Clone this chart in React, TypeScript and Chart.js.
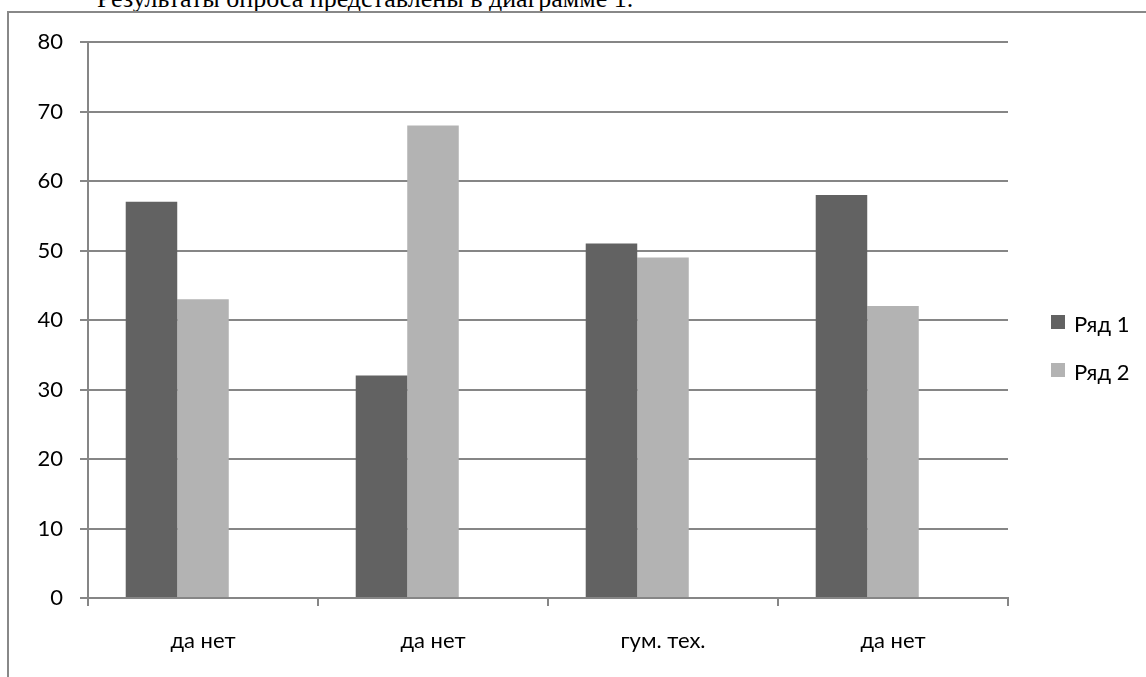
import React, { useEffect, useRef } from "react";
import { Chart, registerables } from "chart.js";

Chart.register(...registerables);

const categories = ["да нет", "да нет", "гум. тех.", "да нет"];
const series1 = [57, 32, 51, 58];
const series2 = [43, 68, 49, 42];
const series3: (number | null)[] = [null, null, null, null];
const seriesNames = ["Ряд 1", "Ряд 2", "Ряд 3"];
const yTicks = [0, 10, 20, 30, 40, 50, 60, 70, 80];
const headerText = "Результаты опроса представлены в диаграмме 1.";

const FONT = "Lato, 'Open Sans', sans-serif";
const GRID = "#868686";

const legendPlugin = {
  id: "sideLegend",
  afterDraw(chart: any) {
    const ctx = chart.ctx;
    const area = chart.chartArea;
    ctx.save();
    ctx.font = `22px ${FONT}`;
    ctx.textBaseline = "alphabetic";
    ctx.textAlign = "left";
    chart.data.datasets.slice(0, 2).forEach((ds: any, i: number) => {
      const top = 315 + i * 48;
      ctx.fillStyle = ds.backgroundColor;
      ctx.fillRect(area.right + 43, top, 14, 14);
      ctx.fillStyle = "#000";
      ctx.fillText(ds.label, area.right + 66, top + 17);
    });
    ctx.restore();
  },
};

export default function App() {
  const ref = useRef<HTMLCanvasElement | null>(null);
  useEffect(() => {
    if (!ref.current) return;
    const common = { categoryPercentage: 0.672, barPercentage: 1 };
    const chart = new Chart(ref.current, {
      type: "bar",
      data: {
        labels: categories,
        datasets: [
          { label: seriesNames[0], data: series1, backgroundColor: "#626262", ...common },
          { label: seriesNames[1], data: series2, backgroundColor: "#b3b3b3", ...common },
          { label: seriesNames[2], data: series3 as any, backgroundColor: "#8a8a8a", ...common },
        ],
      },
      options: {
        animation: false,
        responsive: true,
        maintainAspectRatio: false,
        layout: { padding: { top: 42, right: 138, left: 0, bottom: 0 } },
        plugins: { legend: { display: false }, tooltip: { enabled: false } },
        scales: {
          x: {
            offset: true,
            grid: { offset: true, drawOnChartArea: false, drawTicks: true, tickLength: 8, color: GRID, lineWidth: 2 },
            border: { display: true, color: GRID, width: 2 },
            ticks: { color: "#000", font: { family: FONT, size: 22 }, padding: 22, maxRotation: 0 },
            afterFit(scale: any) { scale.height = 79; },
          },
          y: {
            min: 0,
            max: 80,
            afterBuildTicks(scale: any) { scale.ticks = yTicks.map((v) => ({ value: v })); },
            grid: { color: GRID, lineWidth: 2, tickLength: 8, drawTicks: true },
            border: { display: true, color: GRID, width: 2 },
            ticks: { color: "#000", font: { family: FONT, size: 22 }, padding: 17 },
            afterFit(scale: any) { scale.width = 88; },
          },
        },
      },
      plugins: [legendPlugin],
    });
    return () => chart.destroy();
  }, []);

  return (
    <div style={{ position: "absolute", left: 0, top: 0, width: 1146, height: 677, overflow: "hidden", background: "#fff" }}>
      <div
        style={{
          position: "absolute",
          left: 97,
          top: -15,
          fontFamily: "'Liberation Serif', 'Times New Roman', serif",
          fontSize: 26,
          lineHeight: "28px",
          whiteSpace: "nowrap",
          color: "#000",
        }}
      >
        {headerText}
      </div>
      <div
        style={{
          position: "absolute",
          left: 7,
          top: 11,
          width: 1200,
          height: 800,
          borderLeft: "2px solid #888",
          borderTop: "2px solid #888",
        }}
      />
      <div style={{ position: "absolute", left: 0, top: 0, width: 1146, height: 677 }}>
        <canvas ref={ref} />
      </div>
    </div>
  );
}
